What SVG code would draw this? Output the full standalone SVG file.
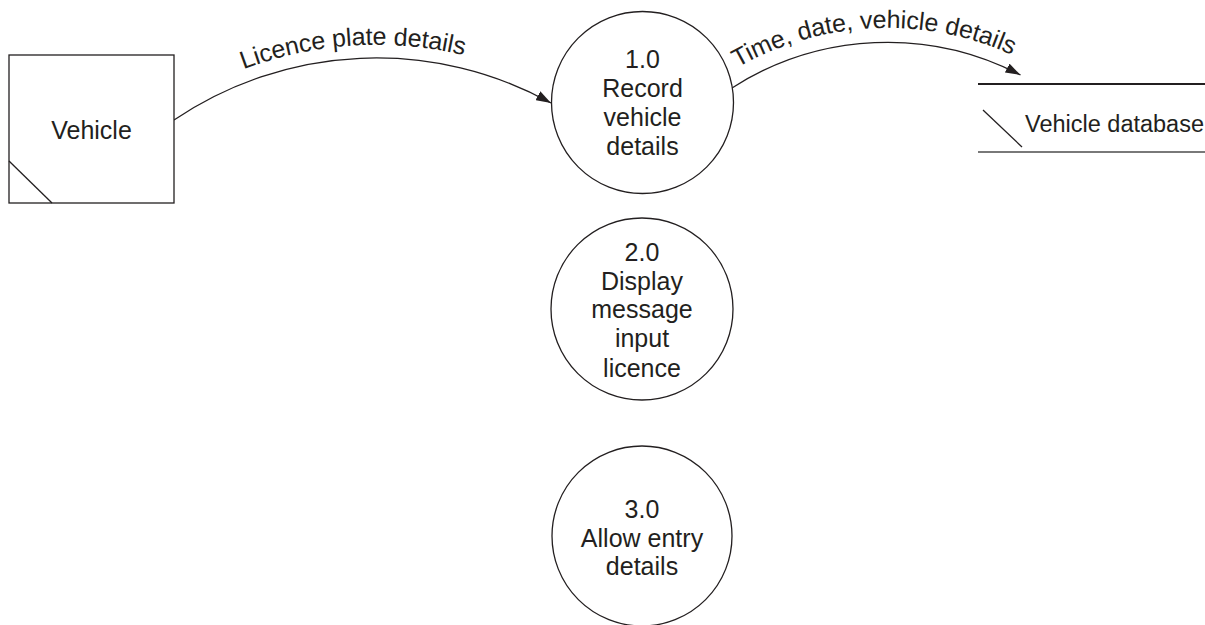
<svg xmlns="http://www.w3.org/2000/svg" width="1205" height="625" viewBox="0 0 1205 625">
<style>
  .shape { fill: #ffffff; stroke: #231f20; stroke-width: 1.3; }
  .line { fill: none; stroke: #231f20; stroke-width: 1.3; }
  .txt { font-family: "Liberation Sans", Arial, sans-serif; font-size: 25px; fill: #231f20; text-anchor: middle; }
  .lbl { font-family: "Liberation Sans", Arial, sans-serif; font-size: 25px; fill: #231f20; }
</style>
<defs>
  <marker id="arrow" markerUnits="userSpaceOnUse" viewBox="0 0 15 10" refX="15" refY="5" markerWidth="15" markerHeight="10" orient="auto">
    <path d="M0,0 L15,5 L0,10 z" fill="#231f20"/>
  </marker>
  <path id="lp1" d="M243.6,69.3 A374,374 0 0 1 465.4,55.6"/>
  <path id="lp2" d="M737.6,67.6 A302,302 0 0 1 1012.9,55.3"/>
</defs>
<rect width="1205" height="625" fill="#ffffff"/>

<g id="connectors">
  <path class="line" d="M174,120 A361,361 0 0 1 551,103" marker-end="url(#arrow)"/>
  <text class="lbl"><textPath href="#lp1" textLength="224" lengthAdjust="spacing">Licence plate details</textPath></text>
  <path class="line" d="M732,88 A287.4,287.4 0 0 1 1020.5,75" marker-end="url(#arrow)"/>
  <text class="lbl"><textPath href="#lp2" textLength="285" lengthAdjust="spacing">Time, date, vehicle details</textPath></text>
</g>

<g id="vehicle">
  <rect class="shape" x="9" y="55" width="165" height="148"/>
  <line class="line" x1="9" y1="161" x2="52" y2="203"/>
  <text class="txt" x="91.5" y="139">Vehicle</text>
</g>

<g id="p1">
  <circle class="shape" cx="642.5" cy="102.5" r="91"/>
  <text class="txt" x="642.5" y="68">1.0</text>
  <text class="txt" x="642.5" y="97">Record</text>
  <text class="txt" x="642.5" y="126">vehicle</text>
  <text class="txt" x="642.5" y="155">details</text>
</g>

<g id="p2">
  <circle class="shape" cx="642" cy="309" r="91"/>
  <text class="txt" x="642" y="261">2.0</text>
  <text class="txt" x="642" y="290">Display</text>
  <text class="txt" x="642" y="318">message</text>
  <text class="txt" x="642" y="347">input</text>
  <text class="txt" x="642" y="377">licence</text>
</g>

<g id="p3">
  <circle class="shape" cx="642" cy="536" r="90"/>
  <text class="txt" x="642" y="518">3.0</text>
  <text class="txt" x="642" y="547">Allow entry</text>
  <text class="txt" x="642" y="575">details</text>
</g>

<g id="datastore">
  <line x1="978" y1="84" x2="1205" y2="84" stroke="#231f20" stroke-width="2"/>
  <line x1="978" y1="152" x2="1205" y2="152" stroke="#4d4d4d" stroke-width="1.5"/>
  <line class="line" x1="983" y1="110" x2="1022" y2="147"/>
  <text class="lbl" x="1025" y="132" style="font-size:23.5px">Vehicle database</text>
</g>
</svg>
